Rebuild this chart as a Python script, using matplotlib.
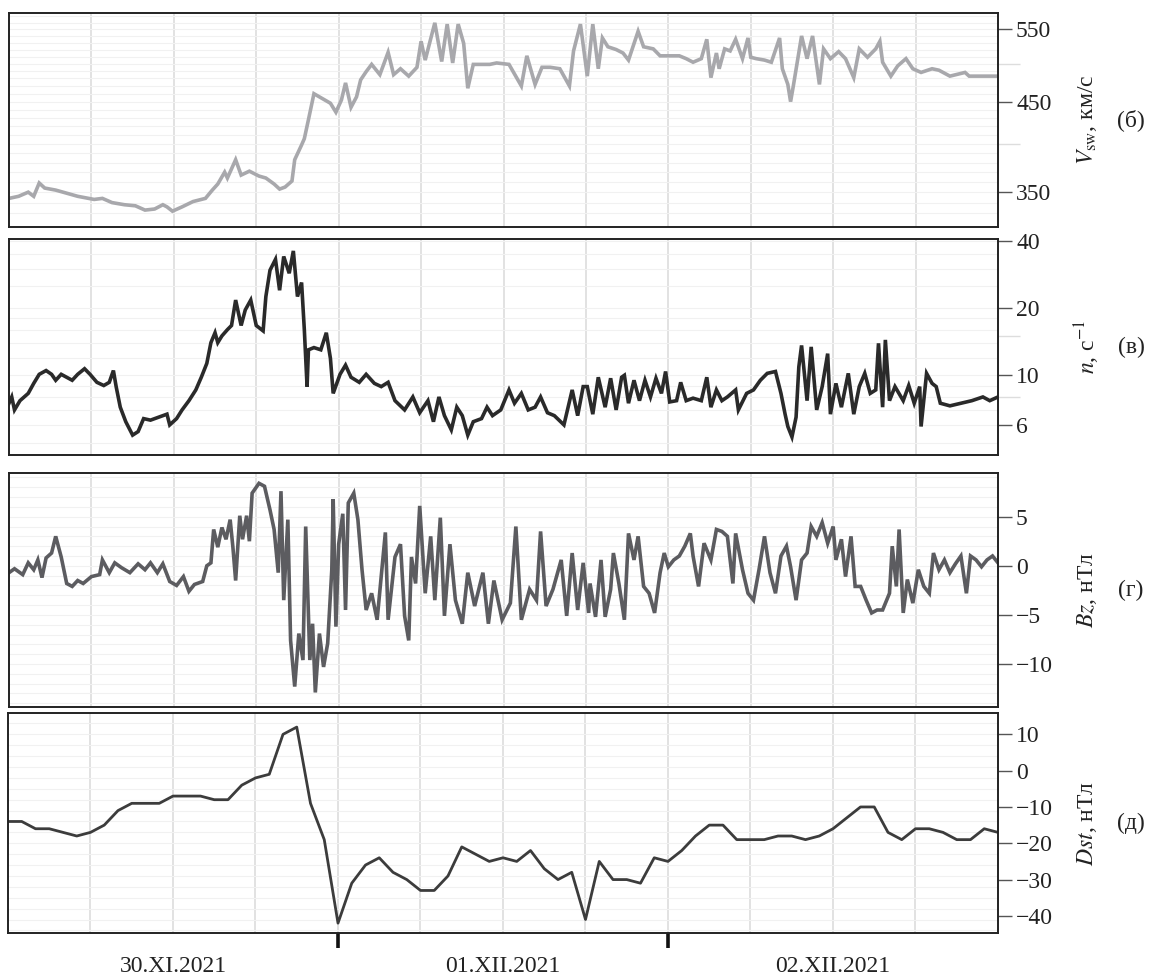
import numpy as np
import matplotlib
matplotlib.use('Agg')
from matplotlib import pyplot as plt
from matplotlib import ticker

plt.rcParams['font.family'] = ['Liberation Serif', 'DejaVu Serif']
plt.rcParams['mathtext.fontset'] = 'stix'

# hours since 30.XI.2021 00:00 UT
v_hours = [0, 0.7, 1.4, 1.8, 2.2, 2.6, 3.4, 4.2, 5.0, 6.2, 6.8, 7.5, 8.4, 9.2, 9.9, 10.6, 11.2, 11.5, 11.9,
           12.6, 13.4, 14.3, 14.8, 15.2, 15.7, 15.9, 16.5, 16.9, 17.5, 18.2, 18.7, 19.3, 19.7, 20.1, 20.6,
           20.8, 21.3, 21.5, 21.8, 22.2, 22.8, 23.4, 23.8, 24.2, 24.5, 24.9, 25.3, 25.6, 26.0, 26.4, 27.0,
           27.6, 28.0, 28.5, 29.1, 29.7, 30.0, 30.3, 31.0, 31.5, 31.9, 32.3, 32.7, 33.1, 33.4, 33.8, 35.0,
           35.5, 36.4, 37.3, 37.7, 38.3, 38.8, 39.4, 40.1, 40.8, 41.1, 41.6, 42.1, 42.5, 42.9, 43.2, 43.6,
           44.2, 44.7, 45.1, 45.8, 46.2, 46.9, 47.4, 48.8, 49.3, 49.8, 50.4, 50.8, 51.1, 51.5, 51.7, 52.1,
           52.5, 52.9, 53.4, 53.8, 54.0, 54.4, 55.0, 55.5, 56.1, 56.3, 56.7, 56.9, 57.1, 57.7, 58.1, 58.5,
           59.0, 59.3, 59.8, 60.4, 60.9, 61.5, 61.9, 62.5, 63.1, 63.4, 63.6, 64.2, 64.7, 65.3, 65.8, 66.4,
           67.2, 67.7, 68.5, 69.6, 69.9, 70.7, 72.0]
v_vals = [344, 346, 350, 346, 359, 354, 352, 349, 346, 343, 344, 340, 338, 337, 333, 334, 338, 336, 332,
          336, 341, 344, 352, 358, 370, 364, 383, 367, 371, 366, 364, 358, 353, 355, 361,
          383, 399, 406, 428, 460, 454, 448, 437, 452, 474, 443, 456, 478, 489, 499, 485,
          516, 485, 493, 483, 495, 532, 505, 560, 503, 558, 501, 558, 529, 467, 499, 499,
          501, 499, 470, 511, 472, 495, 495, 493, 470, 518, 558, 483, 558, 493, 537, 524,
          520, 515, 505, 547, 524, 521, 511, 511, 507, 502, 507, 535, 481, 515, 493, 521,
          518, 535, 507, 537, 509, 507, 505, 502, 537, 493, 472, 450, 470, 540, 507, 540,
          472, 521, 507, 517, 507, 481, 521, 509, 521, 532, 502, 483, 497, 507, 493, 488,
          493, 491, 483, 488, 483, 483, 483]

n_hours = [0, 0.2, 0.4, 0.8, 1.4, 1.8, 2.2, 2.7, 3.1, 3.4, 3.8, 4.2, 4.6, 5.0, 5.5, 5.9, 6.4, 6.9, 7.3,
           7.6, 7.8, 8.1, 8.5, 9.0, 9.4, 9.8, 10.3, 10.9, 11.5, 11.7, 12.2, 12.6, 13.1, 13.6, 14.0, 14.4,
           14.7, 15.0, 15.2, 15.5, 15.9, 16.2, 16.5, 16.9, 17.2, 17.6, 18.0, 18.5, 18.7, 19.0, 19.4, 19.7,
           20.0, 20.4, 20.7, 21.0, 21.3, 21.5, 21.7, 21.8, 22.2, 22.7, 23.1, 23.4, 23.6, 24.1, 24.5, 24.9,
           25.5, 26.0, 26.6, 27.1, 27.6, 28.1, 28.8, 29.4, 29.9, 30.5, 30.9, 31.3, 31.7, 32.2, 32.6, 33.0,
           33.4, 33.8, 34.4, 34.8, 35.2, 35.8, 36.4, 36.8, 37.3, 37.8, 38.3, 38.7, 39.2, 39.7, 40.4, 41.0,
           41.4, 41.8, 42.1, 42.5, 42.9, 43.4, 43.8, 44.2, 44.6, 44.8, 45.1, 45.5, 45.9, 46.3, 46.7, 47.1,
           47.5, 47.8, 48.1, 48.6, 48.9, 49.3, 49.8, 50.4, 50.8, 51.1, 51.5, 51.9, 52.3, 52.9, 53.1, 53.7,
           54.2, 54.7, 55.2, 55.8, 56.2, 56.5, 56.7, 57.0, 57.3, 57.5, 57.7, 58.1, 58.4, 58.8, 59.2, 59.6,
           59.8, 60.2, 60.6, 61.1, 61.5, 61.9, 62.3, 62.7, 63.1, 63.3, 63.6, 63.8, 64.1, 64.5, 65.1, 65.5,
           65.9, 66.3, 66.4, 66.8, 67.2, 67.5, 67.8, 68.5, 69.3, 70.1, 70.9, 71.4, 72.0]
n_vals = [7.5, 8.0, 7.0, 7.7, 8.3, 9.2, 10.1, 10.5, 10.1, 9.5, 10.1, 9.8, 9.5, 10.1, 10.7, 10.1, 9.3, 9.0, 9.3,
          10.5, 8.9, 7.2, 6.2, 5.4, 5.6, 6.4, 6.3, 6.5, 6.7, 6.0, 6.4, 7.0, 7.7, 8.6, 9.8, 11.3,
          14.0, 15.5, 14.0, 15.0, 16.0, 16.7, 21.7, 16.7, 19.6, 21.7, 16.7, 15.8, 22.5, 29.5, 33.0, 24.0,
          34.0, 28.6, 36.0, 22.5, 26.0, 16.0, 8.9, 13.0, 13.3, 13.0, 15.5, 11.9, 8.3, 10.1, 11.1, 9.8,
          9.3, 10.1, 9.2, 8.9, 9.3, 7.7, 7.0, 8.0, 6.8, 7.7, 6.2, 8.0, 6.6, 5.7, 7.2, 6.6,
          5.4, 6.2, 6.4, 7.2, 6.6, 7.0, 8.6, 7.5, 8.3, 7.0, 7.2, 8.0, 6.8, 6.6, 6.0, 8.6,
          6.6, 8.9, 8.9, 6.7, 9.8, 7.2, 9.7, 7.0, 9.8, 10.0, 7.5, 9.5, 7.7, 9.5, 8.0, 9.7,
          8.3, 10.4, 7.6, 7.7, 9.3, 7.7, 7.9, 7.7, 9.8, 7.2, 8.6, 7.7, 8.0, 8.6, 7.0, 8.3,
          8.6, 9.5, 10.2, 10.4, 8.3, 6.7, 5.9, 5.3, 6.5, 10.9, 13.6, 7.7, 13.4, 7.0, 8.9, 12.5,
          6.7, 9.2, 7.2, 10.2, 6.7, 8.9, 10.2, 8.3, 8.6, 13.9, 7.2, 14.4, 7.7, 8.9, 7.7, 9.0,
          7.5, 8.9, 5.9, 10.2, 9.2, 8.9, 7.5, 7.3, 7.5, 7.7, 8.0, 7.7, 8.0]

bz_hours = [0, 0.4, 1.0, 1.4, 1.8, 2.1, 2.4, 2.7, 3.1, 3.4, 3.8, 4.2, 4.6, 5.0, 5.4, 6.0, 6.6, 6.8, 7.3,
            7.7, 8.2, 8.8, 9.4, 9.9, 10.3, 10.8, 11.2, 11.7, 12.2, 12.7, 13.1, 13.5, 14.1, 14.4, 14.7, 14.9,
            15.2, 15.5, 15.8, 16.1, 16.3, 16.5, 16.8, 17.0, 17.3, 17.5, 17.7, 18.2, 18.6, 19.0, 19.3, 19.6,
            19.8, 20.0, 20.3, 20.5, 20.8, 21.1, 21.4, 21.6, 21.9, 22.1, 22.3, 22.6, 22.9, 23.2, 23.5, 23.6,
            23.8, 24.0, 24.3, 24.5, 24.7, 25.1, 25.4, 25.7, 26.0, 26.4, 26.8, 27.4, 27.6, 28.1, 28.5, 28.8,
            29.1, 29.3, 29.6, 29.9, 30.3, 30.7, 31.0, 31.4, 31.7, 32.1, 32.5, 33.0, 33.4, 33.9, 34.5, 34.9,
            35.3, 35.9, 36.5, 36.9, 37.3, 37.9, 38.4, 38.7, 39.1, 39.6, 40.2, 40.6, 41.0, 41.4, 41.8, 42.2,
            42.3, 42.7, 43.1, 43.4, 43.8, 44.0, 44.4, 44.8, 45.1, 45.5, 45.8, 46.2, 46.6, 47.0, 47.4, 47.7,
            48.0, 48.4, 48.8, 49.2, 49.6, 49.8, 50.2, 50.6, 51.1, 51.5, 51.9, 52.3, 52.7, 52.9, 53.4, 53.8,
            54.2, 54.6, 55.0, 55.4, 55.8, 56.2, 56.6, 56.9, 57.3, 57.7, 58.1, 58.4, 58.8, 59.2, 59.6, 60.0,
            60.2, 60.6, 60.9, 61.3, 61.6, 62.0, 62.4, 62.8, 63.2, 63.6, 64.1, 64.3, 64.6, 64.8, 65.1, 65.4,
            65.8, 66.2, 66.6, 67.0, 67.3, 67.7, 68.1, 68.5, 68.9, 69.3, 69.7, 70.0, 70.4, 70.8, 71.2, 71.6,
            72.0]
bz_vals = [-0.7, -0.3, -0.9, 0.3, -0.4, 0.6, -1.2, 0.8, 1.3, 3.0, 0.9, -1.8, -2.1, -1.5, -1.8, -1.1, -0.9, 0.6, -0.7,
           0.3, -0.2, -0.7, 0.2, -0.4, 0.3, -0.7, 0.2, -1.6, -2.0, -1.1, -2.6, -1.9, -1.6, 0.0, 0.3, 3.7,
           1.9, 3.9, 2.7, 4.7, 1.9, -1.5, 5.1, 2.7, 5.1, 2.5, 7.4, 8.4, 8.1, 5.7, 3.7, -0.7,
           7.6, -3.5, 4.7, -7.6, -12.3, -6.9, -9.6, 4.0, -9.6, -5.9, -12.9, -6.9, -10.3, -7.9, -0.4, 6.8,
           -6.2, 2.2, 5.3, -4.5, 6.4, 7.4, 4.7, -0.4, -4.5, -2.8, -5.5, 3.4, -5.5, 0.9, 2.2, -5.1,
           -7.6, 0.9, -1.8, 6.1, -2.8, 3.0, -3.5, 4.9, -5.1, 2.2, -3.5, -5.9, -0.7, -4.1, -0.7, -5.9,
           -1.5, -5.5, -3.8, 4.0, -5.5, -2.4, -3.5, 3.5, -4.1, -2.4, 0.6, -5.1, 1.3, -4.5, 0.3, -4.8,
           -1.8, -5.2, 0.6, -5.2, -2.4, 1.3, -1.8, -5.5, 3.3, 0.6, 3.0, -2.1, -2.8, -4.8, -0.7, 1.3,
           -0.1, 0.6, 1.0, 2.0, 3.3, 1.0, -2.1, 2.3, 0.6, 3.7, 3.5, 3.0, -1.8, 3.3, -0.4, -2.8,
           -3.5, -0.4, 3.0, -0.7, -2.8, 1.0, 2.0, -0.1, -3.5, 0.6, 1.3, 4.0, 3.0, 4.4, 2.3, 4.0,
           0.6, 2.7, -1.1, 3.0, -2.1, -2.1, -3.5, -4.8, -4.5, -4.5, -2.8, 2.0, -2.1, 3.7, -4.8, -1.4,
           -3.8, -0.4, -2.1, -2.8, 1.3, -0.4, 0.6, -0.7, 0.2, 1.0, -2.8, 1.0, 0.6, -0.1, 0.6, 1.0,
           0.3]

# hourly Dst, 30.XI 00 UT ... 03.XII 00 UT
dst_vals = [-14, -14, -16, -16, -17, -18, -17, -15, -11, -9, -9, -9, -7, -7, -7, -8, -8, -4, -2, -1, 10, 12,
            -9, -19, -42, -31, -26, -24, -28, -30, -33, -33, -29, -21, -23, -25, -24, -25, -22, -27, -30, -28,
            -41, -25, -30, -30, -31, -24, -25, -22, -18, -15, -15, -19, -19, -19, -18, -18, -19, -18, -16, -13,
            -10, -10, -17, -19, -16, -16, -17, -19, -19, -16, -17]
dst_hours = list(range(len(dst_vals)))

day_labels = ['30.XI.2021', '01.XII.2021', '02.XII.2021']
panel_tags = ['(б)', '(в)', '(г)', '(д)']

W, H = 1161, 980
fig = plt.figure(figsize=(W / 100, H / 100), dpi=100)

def box(top, bottom, left=9, right=998):
    return [left / W, 1 - bottom / H, (right - left) / W, (bottom - top) / H]

ax1 = fig.add_axes(box(12.7, 226.7))
ax2 = fig.add_axes(box(239, 455))
ax3 = fig.add_axes(box(473.3, 706.7))
ax4 = fig.add_axes(box(713.3, 933.3, left=8))
axes = [ax1, ax2, ax3, ax4]

for ax in axes:
    ax.set_xlim(0, 72)
    for g in range(6, 72, 6):
        ax.axvline(g, color='#e2e2e2', lw=1.4, zorder=0)
    for s in ax.spines.values():
        s.set_color('#222222')
        s.set_linewidth(1.4)
    ax.yaxis.tick_right()
    ax.tick_params(axis='y', which='major', direction='out', length=10, width=1,
                   color='#555555', labelsize=17, pad=3, labelcolor='#222222')
    ax.tick_params(axis='x', which='both', length=0, labelbottom=False)

# (б) solar wind speed
ax1.set_yscale('log')
ax1.set_ylim(318, 576)
for h in range(330, 580, 10):
    ax1.axhline(h, color='#f1f1f1', lw=0.8, zorder=0)
ax1.plot(v_hours, v_vals, color='#a8a8ac', lw=2.6, solid_joinstyle='miter')
ax1.yaxis.set_major_locator(ticker.FixedLocator([350, 450, 550]))
ax1.yaxis.set_major_formatter(ticker.FixedFormatter(['350', '450', '550']))
ax1.yaxis.set_minor_locator(ticker.FixedLocator([400, 500]))
ax1.yaxis.set_minor_formatter(ticker.NullFormatter())
ax1.tick_params(axis='y', which='minor', direction='out', length=16, width=1, color='#dddddd')

# (в) density
ax2.set_yscale('log')
ax2.set_ylim(4.4, 40.7)
for h in [5, 6, 7, 8, 9, 10, 12, 14, 16, 18, 20, 25, 30, 35, 40]:
    ax2.axhline(h, color='#f1f1f1', lw=0.8, zorder=0)
ax2.plot(n_hours, n_vals, color='#2a2a2a', lw=2.6, solid_joinstyle='miter')
ax2.yaxis.set_major_locator(ticker.FixedLocator([6, 10, 20, 40]))
ax2.yaxis.set_major_formatter(ticker.FixedFormatter(['6', '10', '20', '40']))
ax2.yaxis.set_minor_locator(ticker.FixedLocator([8, 15]))
ax2.yaxis.set_minor_formatter(ticker.NullFormatter())
ax2.tick_params(axis='y', which='minor', direction='out', length=16, width=1, color='#dddddd')

# (г) Bz
ax3.set_ylim(-14.35, 9.42)
for h in range(-14, 10):
    ax3.axhline(h, color='#f1f1f1', lw=0.8, zorder=0)
ax3.plot(bz_hours, bz_vals, color='#5c5c60', lw=2.6, solid_joinstyle='miter')
ax3.set_yticks([5, 0, -5, -10])
ax3.yaxis.set_minor_locator(ticker.NullLocator())

# (д) Dst
ax4.set_ylim(-44.8, 15.8)
for h in range(-44, 16, 3):
    ax4.axhline(h, color='#f1f1f1', lw=0.8, zorder=0)
ax4.plot(dst_hours, dst_vals, color='#3c3c3c', lw=2.0)
ax4.set_yticks([10, 0, -10, -20, -30, -40])
ax4.yaxis.set_minor_locator(ticker.NullLocator())
ax4.set_xticks([24, 48])
ax4.set_xticks([12, 36, 60], minor=True)
ax4.set_xticklabels(day_labels, minor=True)
ax4.tick_params(axis='x', which='major', direction='out', length=11, width=2.6,
                color='#111111', labelbottom=False)
ax4.tick_params(axis='x', which='minor', length=0, labelbottom=True, labelsize=17,
                pad=16, labelcolor='#222222')

ylabels = [r'$V_{\rm sw}$, км/с', r'$n$, с$^{-1}$', r'$Bz$, нТл', r'$Dst$, нТл']
centers = [119.7, 347, 590, 823]
for lab, tag, yc in zip(ylabels, panel_tags, centers):
    fig.text(1087 / W, 1 - yc / H, lab, rotation=90, ha='center', va='center',
             fontsize=17, color='#222222')
    fig.text(1131 / W, 1 - yc / H, tag, ha='center', va='center', fontsize=17, color='#222222')

fig.savefig('out.png', dpi=100, facecolor='white')
